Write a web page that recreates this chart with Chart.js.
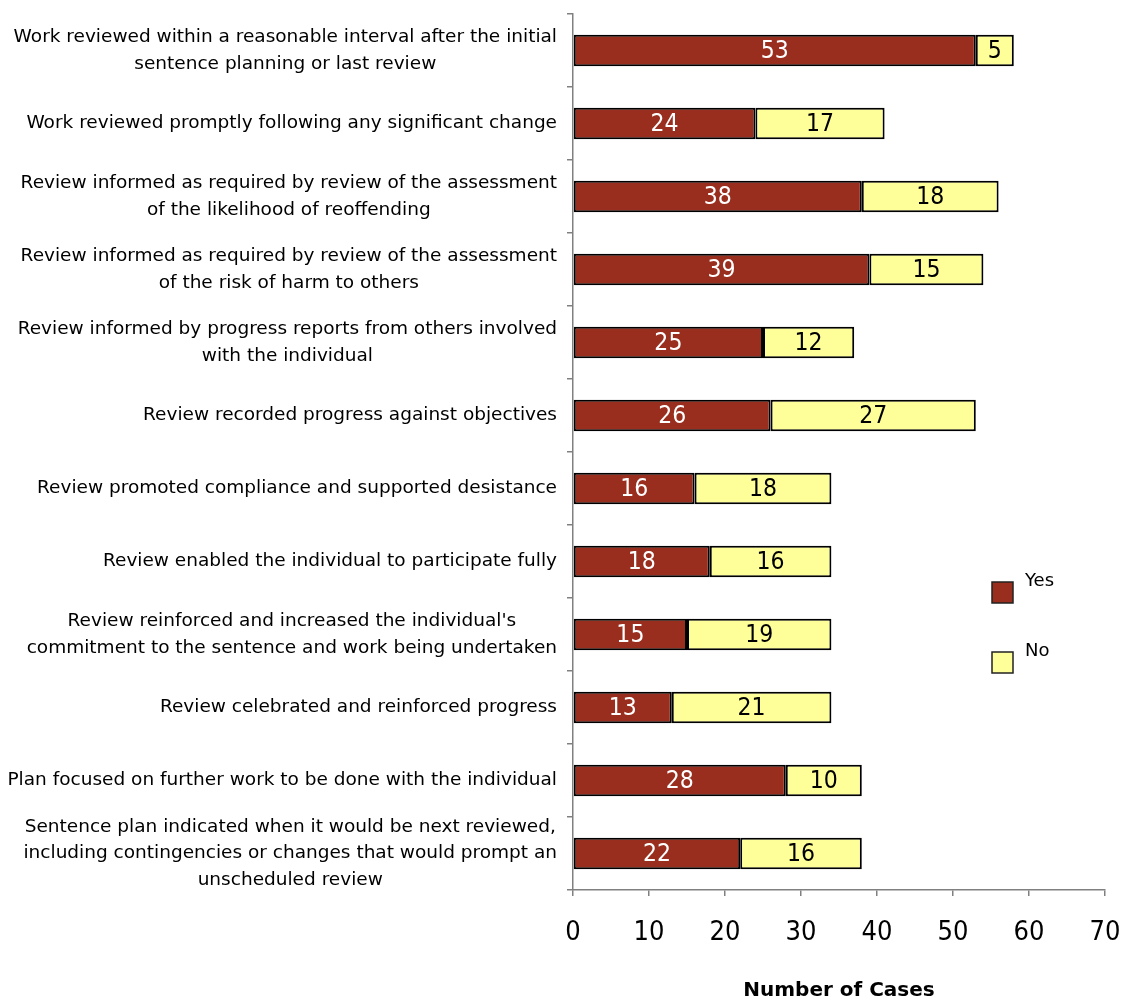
<!DOCTYPE html>
<html>
<head>
<meta charset="utf-8">
<script src="https://cdn.jsdelivr.net/npm/chart.js@4"></script>
<style>
  html, body { margin: 0; padding: 0; background: #fff; }
  #wrap { width: 1121px; height: 1001px; position: relative; }
</style>
</head>
<body>
<div id="wrap"><canvas id="reviewChart"></canvas></div>
<script>
/* Review of sentence plans — Yes / No counts per question */
const categories = [
  ['Work reviewed within a reasonable interval after the initial', 'sentence planning or last review'],
  ['Work reviewed promptly following any significant change'],
  ['Review informed as required by review of the assessment', 'of the likelihood of reoffending'],
  ['Review informed as required by review of the assessment', 'of the risk of harm to others'],
  ['Review informed by progress reports from others involved', 'with the individual'],
  ['Review recorded progress against objectives'],
  ['Review promoted compliance and supported desistance'],
  ['Review enabled the individual to participate fully'],
  ["Review reinforced and increased the individual's", 'commitment to the sentence and work being undertaken'],
  ['Review celebrated and reinforced progress'],
  ['Plan focused on further work to be done with the individual'],
  ['Sentence plan indicated when it would be next reviewed,', 'including contingencies or changes that would prompt an', 'unscheduled review'],
];
const yesValues = [53, 24, 38, 39, 25, 26, 16, 18, 15, 13, 28, 22];
const noValues = [5, 17, 18, 15, 12, 27, 18, 16, 19, 21, 10, 16];
const xMin = 0;
const xMax = 70;
const xStep = 10;

const FONT = "'DejaVu Sans', sans-serif";
const FONT_NARROW = "'DejaVu Sans Condensed', 'DejaVu Sans', sans-serif";
const YES_COLOR = '#992e1f';
const NO_COLOR = '#ffff99';

/* ── category labels: block right-aligned to the axis, lines centred ── */
const blockLabelsPlugin = {
  id: 'blockLabels',
  afterDraw(chart) {
    const { ctx } = chart;
    const scale = chart.scales.y;
    const right = scale.right - 16;
    const lineH = 26.5;

    ctx.save();
    ctx.font = '18.5px ' + FONT;
    ctx.fillStyle = '#000';
    ctx.textAlign = 'center';
    ctx.textBaseline = 'middle';

    chart.data.labels.forEach((lines, i) => {
      const w = Math.max(...lines.map((t) => ctx.measureText(t).width));
      const cx = right - w / 2;
      const cy = scale.getPixelForTick(i);
      lines.forEach((t, j) => {
        ctx.fillText(t, cx, cy + (j - (lines.length - 1) / 2) * lineH);
      });
    });
    ctx.restore();
  },
};

/* ── value printed in the middle of each bar segment ── */
const barValuesPlugin = {
  id: 'barValues',
  afterDatasetsDraw(chart) {
    const { ctx } = chart;
    ctx.save();
    ctx.font = '24.5px ' + FONT_NARROW;
    ctx.textAlign = 'center';
    ctx.textBaseline = 'middle';

    chart.data.datasets.forEach((ds, di) => {
      const meta = chart.getDatasetMeta(di);
      meta.data.forEach((bar, i) => {
        const { x, y, base } = bar.getProps(['x', 'y', 'base'], true);
        ctx.fillStyle = ds._textColor;
        ctx.fillText(String(ds.data[i]), (x + base) / 2, y + 1);
      });
    });
    ctx.restore();
  },
};

/* ── legend boxes inside the plot area ── */
const sideLegendPlugin = {
  id: 'sideLegend',
  afterDraw(chart) {
    const { ctx } = chart;
    const spots = [582, 652];
    ctx.save();
    ctx.font = '18px ' + FONT;
    ctx.textAlign = 'left';
    ctx.textBaseline = 'middle';
    ctx.lineWidth = 1.5;

    chart.data.datasets.forEach((ds, i) => {
      const top = spots[i];
      ctx.fillStyle = ds.backgroundColor;
      ctx.fillRect(992, top, 21, 21);
      ctx.strokeStyle = '#222';
      ctx.strokeRect(992, top, 21, 21);
      ctx.fillStyle = '#000';
      ctx.fillText(ds.label, 1025, top - 1);
    });
    ctx.restore();
  },
};

new Chart(document.getElementById('reviewChart'), {
  type: 'bar',
  data: {
    labels: categories,
    datasets: [
      {
        label: 'Yes',
        data: yesValues,
        backgroundColor: YES_COLOR,
        borderColor: '#000',
        borderWidth: 2,
        borderSkipped: false,
        barPercentage: 0.43,
        categoryPercentage: 1,
        _textColor: '#fff',
      },
      {
        label: 'No',
        data: noValues,
        backgroundColor: NO_COLOR,
        borderColor: '#000',
        borderWidth: 2,
        borderSkipped: false,
        barPercentage: 0.43,
        categoryPercentage: 1,
        _textColor: '#000',
      },
    ],
  },
  plugins: [blockLabelsPlugin, barValuesPlugin, sideLegendPlugin],
  options: {
    indexAxis: 'y',
    responsive: true,
    maintainAspectRatio: false,
    animation: false,
    layout: { padding: { left: 0, right: 16, top: 14, bottom: 0 } },
    plugins: {
      legend: { display: false },
      tooltip: { enabled: false },
    },
    scales: {
      x: {
        stacked: true,
        min: xMin,
        max: xMax,
        border: { color: '#808080', width: 1.5 },
        grid: { drawOnChartArea: false, drawTicks: true, tickLength: 6, color: '#808080', lineWidth: 1.5 },
        ticks: {
          stepSize: xStep,
          color: '#000',
          padding: 21,
          font: { family: FONT_NARROW, size: 27 },
        },
        title: {
          display: true,
          text: 'Number of Cases',
          color: '#000',
          padding: 0,
          font: { family: FONT, size: 20, weight: 'bold', lineHeight: 1.0 },
        },
        afterFit(scale) {
          scale.height = 111;
          scale.paddingLeft = 0;
          scale.paddingRight = 0;
        },
      },
      y: {
        stacked: true,
        offset: true,
        border: { color: '#808080', width: 1.5 },
        grid: { drawOnChartArea: false, drawTicks: true, tickLength: 6, color: '#808080', lineWidth: 1.5, offset: true },
        ticks: { display: false },
        afterFit(scale) { scale.width = 573; },
      },
    },
  },
});
</script>
</body>
</html>
